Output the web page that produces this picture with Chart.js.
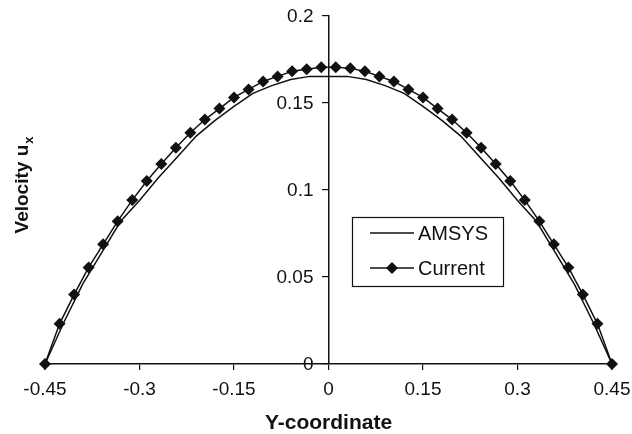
<!DOCTYPE html>
<html lang="en">
<head>
  <meta charset="UTF-8" />
  <title>Velocity profile</title>
  <script src="https://cdn.jsdelivr.net/npm/chart.js"></script>
  <style>
    html, body { margin: 0; padding: 0; background: #fff; }
    #wrap { width: 632px; height: 434px; }
  </style>
</head>
<body>
  <div id="wrap"><canvas id="chart"></canvas></div>

  <script>
    // values
    const currentX = [-0.45, -0.4269, -0.4038, -0.3808, -0.3577, -0.3346, -0.3115, -0.2885, -0.2654, -0.2423,
      -0.2192, -0.1962, -0.1731, -0.15, -0.1269, -0.1038, -0.0808, -0.0577, -0.0346, -0.0115,
      0.0115, 0.0346, 0.0577, 0.0808, 0.1038, 0.1269, 0.15, 0.1731, 0.1962, 0.2192,
      0.2423, 0.2654, 0.2885, 0.3115, 0.3346, 0.3577, 0.3808, 0.4038, 0.4269, 0.45];
    const currentY = [0, 0.0231, 0.0399, 0.0555, 0.0688, 0.0821, 0.0942, 0.1052, 0.1150, 0.1243,
      0.1329, 0.1405, 0.1468, 0.1532, 0.1578, 0.1624, 0.1653, 0.1682, 0.1694, 0.1705,
      0.1705, 0.1699, 0.1682, 0.1653, 0.1624, 0.1578, 0.1532, 0.1468, 0.1405, 0.1329,
      0.1243, 0.1150, 0.1052, 0.0942, 0.0821, 0.0688, 0.0555, 0.0399, 0.0231, 0];

    const amsysX = [-0.45, -0.42, -0.39, -0.36, -0.33, -0.3, -0.27, -0.24, -0.21, -0.18, -0.15,
      -0.12, -0.09, -0.06, -0.03, 0, 0.03, 0.06, 0.09, 0.12, 0.15,
      0.18, 0.21, 0.24, 0.27, 0.3, 0.33, 0.36, 0.39, 0.42, 0.45];
    const amsysY = [0, 0.024, 0.046, 0.064, 0.082, 0.094, 0.107, 0.119, 0.131, 0.140, 0.148,
      0.1555, 0.160, 0.1635, 0.1653, 0.1653, 0.1653, 0.1635, 0.160, 0.1555, 0.148,
      0.140, 0.131, 0.119, 0.107, 0.094, 0.082, 0.064, 0.046, 0.024, 0];

    const xTicks = [-0.45, -0.3, -0.15, 0, 0.15, 0.3, 0.45];
    const yTicks = [0, 0.05, 0.1, 0.15, 0.2];

    const ink = '#111';
    const font = '"Liberation Sans", Arial, Helvetica, sans-serif';

    const toPoints = (xs, ys) => xs.map((x, i) => ({ x: x, y: ys[i] }));

    // y tick labels sit left of the axis that crosses at x = 0
    const yLabels = {
      id: 'yLabels',
      afterDraw(chart) {
        const ctx = chart.ctx;
        const xs = chart.scales.x, ys = chart.scales.y;
        const ax = xs.getPixelForValue(0);
        ctx.save();
        ctx.fillStyle = ink;
        ctx.font = '19px ' + font;
        ctx.textAlign = 'right';
        ctx.textBaseline = 'middle';
        yTicks.forEach(v => {
          ctx.fillText(String(v), ax - 15, ys.getPixelForValue(v) + 1);
        });
        ctx.restore();
      }
    };

    // y axis title with subscript, drawn by hand
    const yTitle = {
      id: 'yTitle',
      afterDraw(chart) {
        const ctx = chart.ctx;
        const area = chart.chartArea;
        ctx.save();
        ctx.fillStyle = ink;
        ctx.font = 'bold 19px ' + font;
        const main = 'Velocity u';
        const w1 = ctx.measureText(main).width;
        ctx.font = 'bold 13px ' + font;
        const w2 = ctx.measureText('x').width;
        const total = w1 + 1 + w2;
        const cy = (area.top + area.bottom) / 2 - 5;
        ctx.translate(28, cy + total / 2);
        ctx.rotate(-Math.PI / 2);
        ctx.textBaseline = 'alphabetic';
        ctx.textAlign = 'left';
        ctx.font = 'bold 19px ' + font;
        ctx.fillText(main, 0, 0);
        ctx.font = 'bold 13px ' + font;
        ctx.fillText('x', w1 + 1, 5);
        ctx.restore();
      }
    };

    // boxed legend inside the plot
    const boxLegend = {
      id: 'boxLegend',
      afterDraw(chart) {
        const ctx = chart.ctx;
        const x0 = 352, y0 = 217, w = 151, h = 69;
        ctx.save();
        ctx.fillStyle = '#fff';
        ctx.fillRect(x0, y0, w, h);
        ctx.strokeStyle = ink;
        ctx.lineWidth = 1.2;
        ctx.strokeRect(x0 + 0.5, y0 + 0.5, w, h);
        ctx.font = '20px ' + font;
        ctx.textBaseline = 'middle';
        ctx.fillStyle = ink;
        const rows = [y0 + 16, y0 + 51];
        chart.data.datasets.forEach((ds, i) => {
          const y = rows[i];
          ctx.strokeStyle = ink;
          ctx.lineWidth = 1.5;
          ctx.beginPath();
          ctx.moveTo(370, y);
          ctx.lineTo(414, y);
          ctx.stroke();
          if (ds.pointRadius > 0) {
            const r = 6;
            ctx.beginPath();
            ctx.moveTo(392, y - r);
            ctx.lineTo(392 + r, y);
            ctx.lineTo(392, y + r);
            ctx.lineTo(392 - r, y);
            ctx.closePath();
            ctx.fill();
          }
          ctx.fillText(ds.label, 418, y + 1);
        });
        ctx.restore();
      }
    };

    new Chart(document.getElementById('chart'), {
      type: 'scatter',
      data: {
        datasets: [{
          label: 'AMSYS',
          data: toPoints(amsysX, amsysY),
          showLine: true,
          borderColor: ink,
          borderWidth: 1.5,
          pointRadius: 0,
          tension: 0
        }, {
          label: 'Current',
          data: toPoints(currentX, currentY),
          showLine: true,
          clip: false,
          borderColor: ink,
          backgroundColor: ink,
          borderWidth: 1.5,
          pointStyle: 'rectRot',
          pointRadius: 6,
          pointBorderWidth: 0,
          tension: 0
        }]
      },
      options: {
        responsive: true,
        maintainAspectRatio: false,
        animation: false,
        layout: { padding: { left: 45, right: 20, top: 16, bottom: 0 } },
        plugins: {
          legend: { display: false },
          tooltip: { enabled: false }
        },
        scales: {
          x: {
            type: 'linear',
            position: 'bottom',
            min: -0.45,
            max: 0.45,
            afterBuildTicks: axis => { axis.ticks = xTicks.map(v => ({ value: v })); },
            // let the layout padding alone decide the plot's left/right edges
            afterFit: axis => { axis.paddingLeft = 0; axis.paddingRight = 0; },
            grid: { display: true, drawOnChartArea: false, drawTicks: true, tickLength: 6, color: ink, lineWidth: 1.2 },
            border: { display: true, color: ink, width: 1.5 },
            ticks: {
              autoSkip: false,
              maxRotation: 0,
              padding: 10,
              color: ink,
              font: { family: font, size: 19, lineHeight: 1 },
              callback: v => String(v)
            },
            title: {
              display: true,
              text: 'Y-coordinate',
              color: ink,
              font: { family: font, size: 21, weight: 'bold', lineHeight: 1 },
              padding: { top: 4, bottom: 0 }
            }
          },
          y: {
            type: 'linear',
            position: { x: 0 },
            min: 0,
            max: 0.2,
            afterBuildTicks: axis => { axis.ticks = yTicks.map(v => ({ value: v })); },
            grid: { display: true, drawOnChartArea: false, drawTicks: true, tickLength: 6, color: ink, lineWidth: 1.2 },
            border: { display: true, color: ink, width: 1.5 },
            ticks: { display: false }
          }
        }
      },
      plugins: [yLabels, yTitle, boxLegend]
    });
  </script>
</body>
</html>
